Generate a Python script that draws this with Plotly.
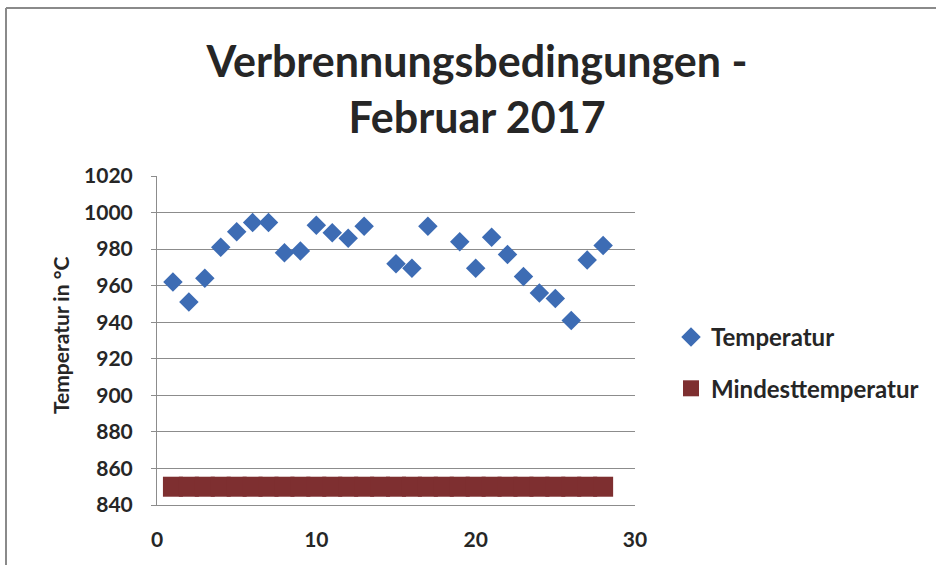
import plotly.graph_objects as go

days = list(range(1, 14)) + [15, 16, 17] + list(range(19, 29))
temperatur = [962, 951, 964, 981, 989.5, 994.5, 994.5, 978, 979, 993, 989, 986, 992.5,
              972, 969.5, 992.5,
              984, 969.5, 986.5, 977, 965, 956, 953, 941, 974, 982]
min_days = list(range(1, 29))
mindesttemperatur = [850] * len(min_days)

title_text = "Verbrennungsbedingungen -<br>Februar 2017"
y_title = "Temperatur in °C"
x_ticks = [0, 10, 20, 30]
y_ticks = list(range(840, 1021, 20))

FONT = "Lato"
TXT = "#262626"

fig = go.Figure()
fig.add_trace(go.Scatter(
    x=days, y=temperatur, mode="markers", name="Temperatur",
    marker=dict(symbol="diamond", size=15, color="#3D6CB4"),
    legendgroup="a"))
fig.add_trace(go.Scatter(
    x=min_days, y=mindesttemperatur, mode="markers", name="Mindesttemperatur",
    marker=dict(symbol="square", size=20, color="#7E2F30"),
    legendgroup="b"))

L, R, T, B = 157, 301, 176, 60
W, H = 936, 565
pw, ph = W - L - R, H - T - B

def px(xp):
    return (xp - L) / pw

def py(yp):
    return (H - B - yp) / ph

fig.update_layout(
    width=W, height=H,
    margin=dict(l=L, r=R, t=T, b=B),
    paper_bgcolor="white", plot_bgcolor="white",
    font=dict(family=FONT, color=TXT),
    title=dict(text=title_text, x=477 / W, xanchor="center", xref="container",
               y=1 - 77 / H, yanchor="top", yref="container",
               font=dict(family=FONT, size=43, color=TXT, weight="bold")),
    xaxis=dict(range=[0, 30], tickvals=x_ticks, showgrid=False, zeroline=False,
               showline=True, linecolor="#8C8C8C", linewidth=1,
               ticks="", tickfont=dict(size=21, color=TXT, weight="bold"),
               ticklabelstandoff=16),
    yaxis=dict(range=[840, 1020], tickvals=y_ticks, showgrid=True,
               gridcolor="#8C8C8C", gridwidth=1, zeroline=False,
               showline=True, linecolor="#8C8C8C", linewidth=1,
               ticks="outside", ticklen=5, tickcolor="#8C8C8C",
               tickfont=dict(size=21, color=TXT, weight="bold"),
               ticklabelstandoff=14),
    legend=dict(x=px(671), xanchor="left", y=py(315), yanchor="top",
                font=dict(size=24, color=TXT, weight="bold"),
                tracegroupgap=17, traceorder="grouped",
                bgcolor="rgba(0,0,0,0)"),
    annotations=[
        dict(text=y_title, xref="paper", yref="paper", x=px(60), y=py(336),
             xanchor="center", yanchor="middle", textangle=-90, showarrow=False,
             font=dict(size=21, color=TXT, weight="bold")),
    ],
    shapes=[
        dict(type="line", xref="paper", yref="paper",
             x0=px(6), x1=px(940), y0=py(8), y1=py(8),
             line=dict(color="#8A8A8A", width=2)),
        dict(type="line", xref="paper", yref="paper",
             x0=px(6), x1=px(6), y0=py(8), y1=py(570),
             line=dict(color="#8A8A8A", width=2)),
    ],
)

fig.write_html("out.html", config={"displayModeBar": False},
               post_script="document.body.style.margin='0px';")
